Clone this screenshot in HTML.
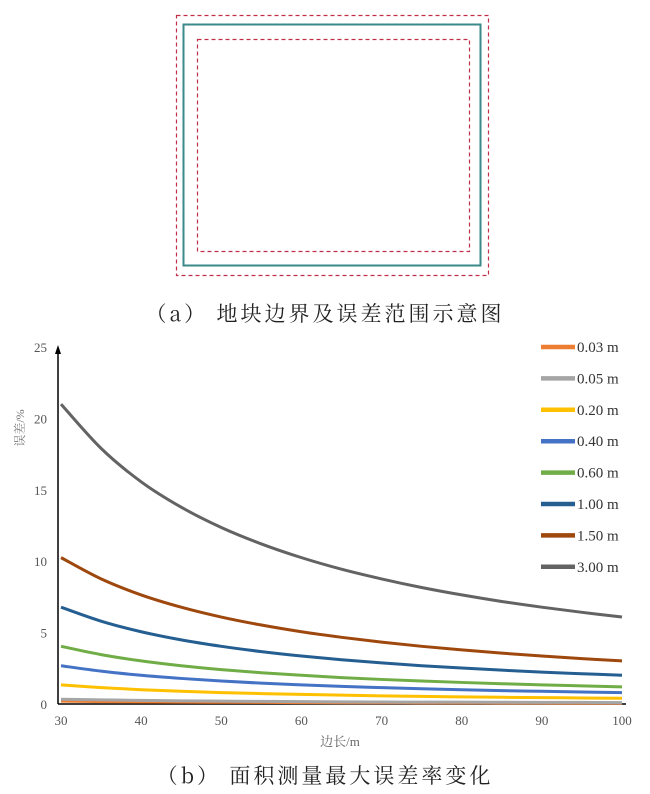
<!DOCTYPE html>
<html><head><meta charset="utf-8"><style>
body{margin:0;background:#fff;width:650px;height:794px;overflow:hidden;font-family:"Liberation Serif","Noto Serif CJK SC",serif}
svg{display:block}
</style></head><body>
<svg width="650" height="794">
<g>
<rect x="176.5" y="15.5" width="312" height="260" fill="none" stroke="#c0304a" stroke-width="1.2" stroke-dasharray="4,3"/>
<rect x="183.5" y="24.5" width="297" height="241" fill="none" stroke="#3a8a8a" stroke-width="2"/>
<rect x="197.5" y="39.5" width="272" height="212" fill="none" stroke="#c0304a" stroke-width="1.2" stroke-dasharray="4,3"/>
</g>
<text x="325" y="321" text-anchor="middle" font-size="21" letter-spacing="3" fill="#222" font-family="Noto Serif CJK SC,serif">（a） 地块边界及误差范围示意图</text>
<g id="chart"></g>
<text x="325" y="783" text-anchor="middle" font-size="21" letter-spacing="3" fill="#222" font-family="Noto Serif CJK SC,serif">（b） 面积测量最大误差率变化</text>
</svg>
<script>
const xValues=[30,35,40,45,50,55,60,65,70,75,80,85,90,95,100];
const labels=["0.03 m","0.05 m","0.20 m","0.40 m","0.60 m","1.00 m","1.50 m","3.00 m"];
const colors=["#ed7d31","#a5a5a5","#ffc000","#4472c4","#70ad47","#255e91","#9e480e","#636363"];
const s003=[0.2,0.17,0.15,0.13,0.12,0.11,0.1,0.09,0.09,0.08,0.08,0.07,0.07,0.06,0.06];
const s005=[0.33,0.29,0.25,0.22,0.2,0.18,0.17,0.15,0.14,0.13,0.13,0.12,0.11,0.11,0.1];
const s020=[1.34,1.15,1.0,0.89,0.8,0.73,0.67,0.62,0.57,0.53,0.5,0.47,0.45,0.42,0.4];
const s040=[2.68,2.3,2.01,1.79,1.61,1.46,1.34,1.23,1.15,1.07,1.0,0.94,0.89,0.84,0.8];
const s060=[4.04,3.46,3.02,2.68,2.41,2.19,2.01,1.85,1.72,1.61,1.51,1.42,1.34,1.27,1.2];
const s100=[6.78,5.8,5.06,4.49,4.04,3.67,3.36,3.1,2.88,2.68,2.52,2.37,2.23,2.12,2.01];
const s150=[10.25,8.76,7.64,6.78,6.09,5.53,5.06,4.67,4.33,4.04,3.79,3.56,3.36,3.18,3.02];
const s300=[21.0,17.9,15.56,13.78,12.36,11.21,10.25,9.44,8.76,8.16,7.64,7.18,6.78,6.42,6.09];
const series=[s003,s005,s020,s040,s060,s100,s150,s300];
const yTicks=[0,5,10,15,20,25];
const xTicks=[30,40,50,60,70,80,90,100];
const NS="http://www.w3.org/2000/svg";
const g=document.getElementById('chart');
const X=v=>61+(v-30)*(622-61)/70;
const Y=v=>704-v*(704-347)/25;
function mk(t,a,p){const e=document.createElementNS(NS,t);for(const k in a)e.setAttribute(k,a[k]);(p||g).appendChild(e);return e;}
function smooth(P){let d='M'+P[0][0]+','+P[0][1];for(let i=0;i<P.length-1;i++){const p0=P[i-1]||P[i],p1=P[i],p2=P[i+1],p3=P[i+2]||p2;
d+=' C'+(p1[0]+(p2[0]-p0[0])/6)+','+(p1[1]+(p2[1]-p0[1])/6)+' '+(p2[0]-(p3[0]-p1[0])/6)+','+(p2[1]-(p3[1]-p1[1])/6)+' '+p2[0]+','+p2[1];}return d;}
let e=mk('line',{x1:58,y1:704,x2:626,y2:704,stroke:'#000','stroke-width':1.5});


e=mk('line',{x1:58,y1:704,x2:58,y2:352,stroke:'#000','stroke-width':1.5});


e=mk('polygon',{points:'58,345 55,354 61,354',fill:'#000'});


yTicks.forEach(v=>{const t=mk('text',{x:47,y:Y(v)+5,'text-anchor':'end','font-size':13,fill:'#555'});t.textContent=v;

});
xTicks.forEach(v=>{const t=mk('text',{x:X(v),y:725,'text-anchor':'middle','font-size':13,fill:'#555'});t.textContent=v;

});
e=mk('text',{x:340,y:746,'text-anchor':'middle','font-size':13,fill:'#666'});e.textContent='边长/m';


e=mk('text',{x:0,y:0,'text-anchor':'middle','font-size':12,fill:'#777',transform:'translate(24,428) rotate(-90)'});e.textContent='误差/%';


series.forEach((s,i)=>{
 const P=s.map((v,j)=>[X(xValues[j]),Y(v)]);
 const l=mk('path',{d:smooth(P),fill:'none',stroke:colors[i],'stroke-width':3,'stroke-linejoin':'round'});
 
 
 const ly=347+i*31.4;
 const lg=mk('g',{});
 
 
 mk('line',{x1:541,y1:ly,x2:575,y2:ly,stroke:colors[i],'stroke-width':4.5},lg);
 const t=mk('text',{x:577,y:ly+5,'font-size':15,fill:'#333'},lg);t.textContent=labels[i];
});
</script>
</body></html>
